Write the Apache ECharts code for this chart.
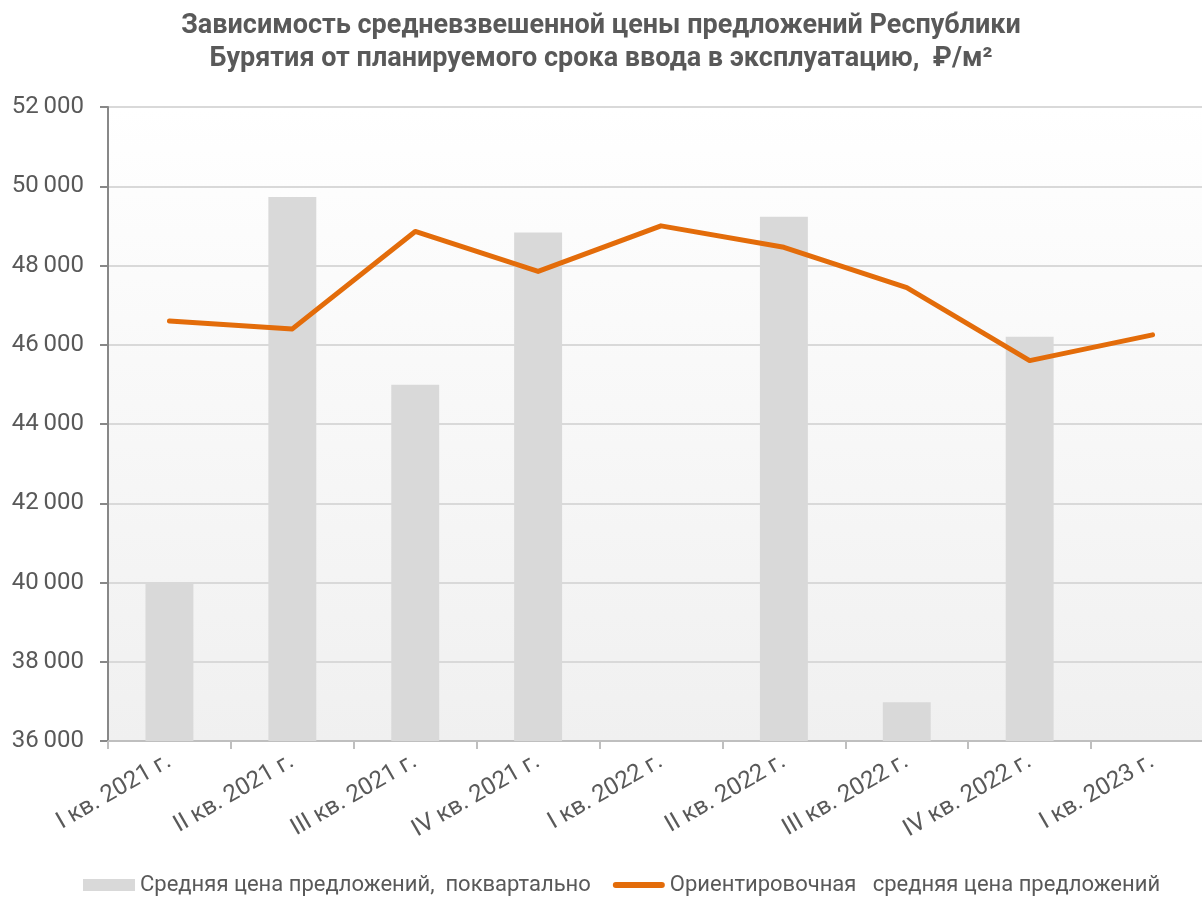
<!DOCTYPE html>
<html><head><meta charset="utf-8">
<script src="https://cdn.jsdelivr.net/npm/echarts@6/dist/echarts.min.js"></script>
<style>html,body{margin:0;padding:0;background:#fff}#c{width:1202px;height:904px}</style>
</head><body><div id="c"></div>
<script>
const categories = ['I кв. 2021 г.','II кв. 2021 г.','III кв. 2021 г.','IV кв. 2021 г.','I кв. 2022 г.','II кв. 2022 г.','III кв. 2022 г.','IV кв. 2022 г.','I кв. 2023 г.'];
const barValues = [39980, 49730, 44990, 48830, null, 49230, 36980, 46200, null];
const lineValues = [46600, 46400, 48860, 47850, 49000, 48460, 47440, 45600, 46250];
const barName = 'Средняя цена предложений,  поквартально';
const lineName = 'Ориентировочная   средняя цена предложений';
const titleText = 'Зависимость средневзвешенной цены предложений Республики\nБурятия от планируемого срока ввода в эксплуатацию,  ₽/м²';

const chart = echarts.init(document.getElementById('c'));
const fmt = v => String(v).replace(/\B(?=(\d{3})+(?!\d))/g, '\u2009');
chart.setOption({
  animation: false,
  backgroundColor: '#fff',
  title: {
    text: titleText, left: 'center', top: 5,
    textStyle: {fontFamily: 'Roboto', fontWeight: 'bold', fontSize: 27, color: '#595959', lineHeight: 33}
  },
  legend: {
    bottom: 3, left: 78, itemGap: 22, itemWidth: 52, itemHeight: 12,
    textStyle: {fontFamily: 'Roboto', fontSize: 22, color: '#595959'},
    data: [
      {name: barName, icon: 'rect', itemStyle: {color: '#d9d9d9'}},
      {name: lineName, icon: 'path://M0,0M0,12M3,3L49,3A3,3 0 0 1 49,9L3,9A3,3 0 0 1 3,3Z', itemStyle: {color: '#e36c0a'}}
    ]
  },
  grid: {left: 108, width: 1106, top: 107, height: 634, outerBoundsMode: 'none', containLabel: false,
    show: true, borderWidth: 0,
    backgroundColor: new echarts.graphic.LinearGradient(0, 0, 0, 1, [{offset: 0, color: '#ffffff'}, {offset: 1, color: '#f0f0f0'}])},
  xAxis: {
    type: 'category', data: categories,
    axisLine: {lineStyle: {color: '#bfbfbf', width: 2}},
    axisTick: {show: true, length: 8, lineStyle: {color: '#bfbfbf', width: 2}},
    axisLabel: {rotate: 30, fontFamily: 'Roboto', fontSize: 24, color: '#595959', margin: 19, interval: 0}
  },
  yAxis: {
    type: 'value', min: 36000, max: 52000, interval: 2000,
    axisLine: {show: true, lineStyle: {color: '#888888', width: 2}},
    axisTick: {show: true, length: 8, lineStyle: {color: '#888888', width: 2}},
    splitLine: {lineStyle: {color: '#d9d9d9', width: 2}},
    axisLabel: {fontFamily: 'Roboto', fontSize: 24, color: '#595959', margin: 24, formatter: fmt}
  },
  series: [
    {name: barName, type: 'bar', data: barValues, barWidth: '39%', itemStyle: {color: '#d9d9d9'}},
    {name: lineName, type: 'line', data: lineValues, symbol: 'none',
      lineStyle: {color: '#e36c0a', width: 5, cap: 'round', join: 'round'}, itemStyle: {color: '#e36c0a'}}
  ]
});
</script></body></html>
